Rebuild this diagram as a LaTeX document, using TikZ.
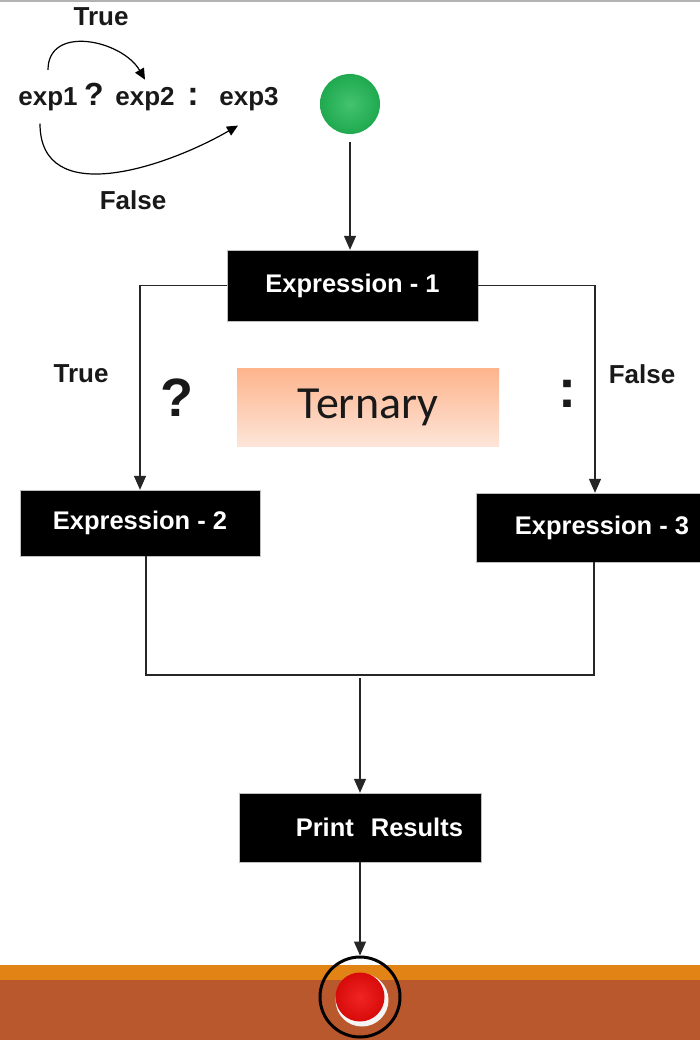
\documentclass[tikz,border=0pt]{standalone}
\usepackage{fontspec}
\setmainfont{Liberation Sans}
\newfontfamily\ternaryfont{Carlito}
\usetikzlibrary{positioning,arrows.meta}
\definecolor{StartGreen}{RGB}{34,184,86}
\definecolor{StopRed}{RGB}{240,12,12}
\definecolor{BandOrange}{RGB}{226,131,22}
\definecolor{BandBrown}{RGB}{186,88,45}
\definecolor{PeachTop}{RGB}{253,180,140}
\definecolor{PeachBottom}{RGB}{253,229,216}

\begin{document}
\begin{tikzpicture}[
		x=1pt,y=-1pt,
		ExprBox/.style={draw=gray!50,fill=black,text=white,inner sep=0pt,
			font=\fontsize{25.5}{30}\selectfont\bfseries},
		BoolLabel/.style={inner sep=0pt,anchor=base,text=black!90,
			font=\fontsize{26}{30}\selectfont\bfseries},
		BigSign/.style={inner sep=0pt,anchor=base,text=black!90,
			font=\fontsize{54}{60}\selectfont\bfseries},
		Wire/.style={draw=black!85,line width=1.3pt},
		FlowArrow/.style={Wire,-{Triangle[length=14pt,width=12pt]}},
		CurveArrow/.style={draw=black,line width=1.2pt,-{Triangle[length=11pt,width=10pt]}}
		]
		\clip (0,0) rectangle (700,1040);
		\fill[white] (0,0) rectangle (700,1040);
		\fill[gray!60] (0,0) rectangle (700,2.5);
		
		% bands at the bottom
		\fill[BandOrange] (0,965) rectangle (700,980);
		\fill[BandBrown] (0,980) rectangle (700,1040);
		
		% syntax in the corner
		\node[BoolLabel] (eA) at (48,106) {exp1};
		\node[BoolLabel,font=\fontsize{32}{36}\selectfont\bfseries] (qA) at (94,106) {?};
		\node[BoolLabel] (eB) at (145,106) {exp2};
		\node[BoolLabel,font=\fontsize{34}{36}\selectfont\bfseries] (cA) at (193,106) {:};
		\node[BoolLabel] (eC) at (249,106) {exp3};
		\node[BoolLabel] (tTop) at (101,26) {True};
		\node[BoolLabel] (fTop) at (133,210) {False};
		
		\draw[CurveArrow] ([yshift=18pt]eA.north) to[out=90,in=120,looseness=1.2] ([yshift=8pt]eB.north);
		\draw[CurveArrow] ([xshift=-8pt,yshift=-12pt]eA.south) to[out=-90,in=210,looseness=1.1] ([xshift=-11pt,yshift=-14pt]eC.south);
		
		% flow chart
		\node[circle,minimum size=60pt,inner sep=0pt,inner color=StartGreen!85!white,
			outer color=StartGreen!92!black] (start) at (350,104) {};
		
		\node[ExprBox,minimum width=251pt,minimum height=71pt] (exp1) at (352.5,285.5) {Expression - 1};
		\node[ExprBox,minimum width=240pt,minimum height=66pt] (exp2) at (140,523) {Expression - 2};
		\node[ExprBox,minimum width=252pt,minimum height=69pt] (exp3) at (602,527.5) {Expression - 3};
		\node[ExprBox,minimum width=242pt,minimum height=69pt,text width=206pt,align=right] (print) at (360,827.5) {Print~ Results};
		
		\node[minimum width=262pt,minimum height=78pt,inner sep=0pt,top color=PeachTop,
			bottom color=PeachBottom,text=black!90,font=\fontsize{46}{50}\selectfont\ternaryfont] (ternary) at (368,407) {Ternary};
		
		\node[BoolLabel] (tLeft) at (81,382) {True};
		\node[BoolLabel] (fRight) at (642,383) {False};
		\node[BigSign] (qBig) at (177,416) {?};
		\node[BigSign] (cBig) at (567,407) {:};
		
		\coordinate (join) at (360,675);
		
		\node[draw=black,line width=3pt,circle,minimum size=80pt,inner sep=0pt] (stop) at (360,997) {};
		\fill[gray!8] (362,1000) circle (26.5pt);
		\node[circle,minimum size=49pt,inner sep=0pt,inner color=StopRed!90!white,
			outer color=StopRed!90!black] (ball) at (360,997) {};
		
		\draw[FlowArrow] ([yshift=-8pt]start.south) -- (start.south |- exp1.north);
		\draw[FlowArrow] (exp1.west) -| (exp2.north);
		\draw[FlowArrow] (exp1.east) -| ([xshift=-7pt]exp3.north);
		\draw[Wire] ([xshift=6pt]exp2.south) |- (join) -| ([xshift=-8pt]exp3.south);
		\draw[FlowArrow] ([yshift=-3pt]join) -- (print.north);
		\draw[FlowArrow] (print.south) -- (stop.north);
		
\end{tikzpicture}
\end{document}
